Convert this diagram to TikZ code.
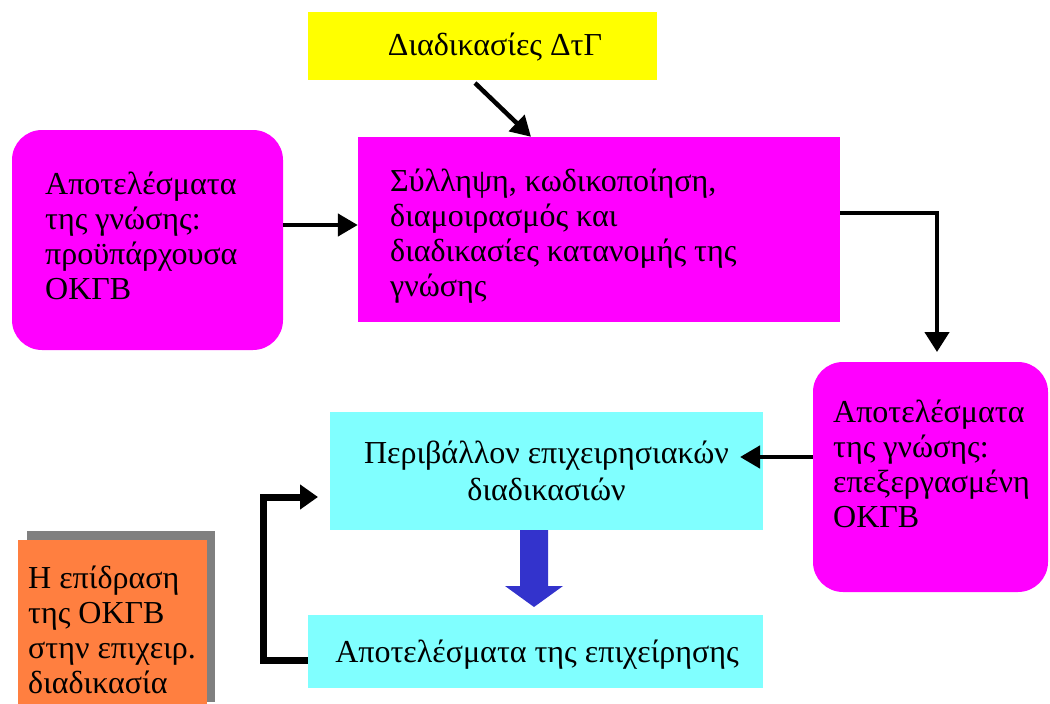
\documentclass[tikz,border=0pt]{standalone}
\usepackage{fontspec}
\setmainfont{Liberation Serif}
\usetikzlibrary{arrows.meta,calc}
\definecolor{mag}{HTML}{FF00FF}
\definecolor{yel}{HTML}{FFFF00}
\definecolor{cyn}{HTML}{80FFFF}
\definecolor{org}{HTML}{FF7F40}
\definecolor{shd}{HTML}{808080}
\definecolor{blu}{HTML}{3333CC}
\begin{document}
\begin{tikzpicture}[x=1pt,y=-1pt,
  txt/.style={inner sep=0pt,align=left,anchor=west,font=\fontsize{32}{35}\selectfont},
  ctxt/.style={inner sep=0pt,align=center,font=\fontsize{32}{37}\selectfont},
  conn/.style={line width=4.5pt,-{Triangle[length=20pt,width=22pt]}}]
\useasboundingbox (0,0) rectangle (1050,704);
% boxes
\fill[yel] (308,12) rectangle (657,80);
\node[inner sep=0pt,minimum width=349pt,minimum height=68pt] (yb) at (482.5,46) {};
\node[ctxt] (yt) at (495,47) {Διαδικασίες ΔτΓ};

\fill[mag,rounded corners=30pt] (12,130) rectangle (283,350);
\node[inner sep=0pt,minimum width=271pt,minimum height=220pt] (lb) at (147.5,240) {};
\node[txt] (lt) at (45,236) {Αποτελέσματα\\της γνώσης:\\προϋπάρχουσα\\ΟΚΓΒ};

\fill[mag] (358,137) rectangle (840,322);
\node[inner sep=0pt,minimum width=482pt,minimum height=185pt] (cb) at (599,229.5) {};
\node[txt] (ct) at (390,236) {Σύλληψη, κωδικοποίηση,\\διαμοιρασμός και\\διαδικασίες κατανομής της\\γνώσης};

\fill[mag,rounded corners=30pt] (813,362) rectangle (1048,592);
\node[inner sep=0pt,minimum width=235pt,minimum height=230pt] (rb) at (930.5,477) {};
\node[txt] (rt) at (833,464) {Αποτελέσματα\\της γνώσης:\\επεξεργασμένη\\ΟΚΓΒ};

\fill[cyn] (330,412) rectangle (763,530);
\node[inner sep=0pt,minimum width=433pt,minimum height=118pt] (pb) at (546.5,471) {};
\node[ctxt] (pt) at (546.5,471) {Περιβάλλον επιχειρησιακών\\διαδικασιών};

\fill[cyn] (308,615) rectangle (763,688);
\node[inner sep=0pt,minimum width=455pt,minimum height=73pt] (ab) at (535.5,651.5) {};
\node[ctxt] (at) at (537,655) {Αποτελέσματα της επιχείρησης};

\fill[shd] (27,531) rectangle (215,702);
\fill[org] (18,540) rectangle (207,704);
\node[inner sep=0pt,minimum width=189pt,minimum height=164pt] (ob) at (112.5,622) {};
\node[txt] (ot) at (28,630) {Η επίδραση\\της ΟΚΓΒ\\στην επιχειρ.\\διαδικασία};

% connectors
\coordinate (y1) at (475,83);
\draw[conn] (y1) -- (cb.north -| 531,0);
\draw[conn] (lb.east |- 0,225) -- (cb.west |- 0,225);
\coordinate (c1) at (937,213);
\draw[line width=4.5pt,-{Triangle[length=20pt,width=24pt]}] (cb.east |- c1) -- (c1) -- (937,352);
\draw[conn] (rb.west |- 0,457) -- (740,457);
\coordinate (b1) at (263,660);
\coordinate (b2) at (263,497);
\draw[line width=7pt,-{Triangle[length=18pt,width=24pt]},line join=miter] (ab.west |- b1) -- (b1) -- (b2) -- (318,497);
% block arrow
\fill[blu] (520,530) -- (548,530) -- (548,586) -- (563,586) -- (534,607) -- (505,586) -- (520,586) -- cycle;
\end{tikzpicture}
\end{document}
